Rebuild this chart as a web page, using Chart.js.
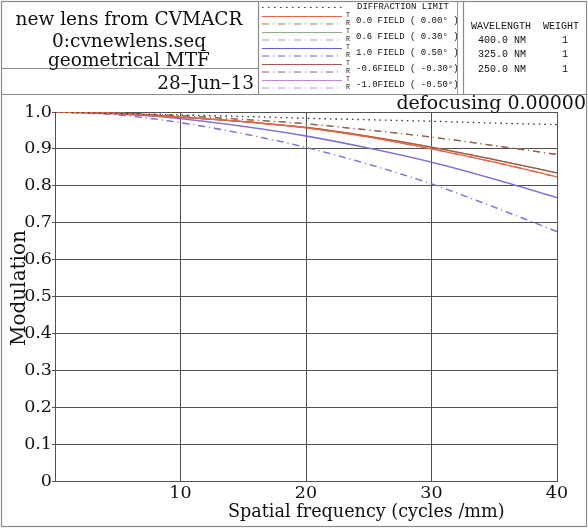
<!DOCTYPE html>
<html>
<head>
<meta charset="utf-8">
<script src="https://cdn.jsdelivr.net/npm/chart.js@4"></script>
<style>
  html, body { margin: 0; padding: 0; background: #fff; }
  #page { position: relative; width: 588px; height: 529px; overflow: hidden; background: #fff; }
  .t { position: absolute; white-space: pre; color: #111; }
  .serif { font-family: "DejaVu Serif", serif; font-size: 18.5px; line-height: 19px; }
  .mono { font-family: "Liberation Mono", monospace; font-size: 9px; line-height: 9px; }
  .wl { font-family: "Liberation Mono", monospace; font-size: 10px; line-height: 10px; }
  #plot { position: absolute; left: 0; top: 95px; width: 588px; height: 434px; }
  svg { position: absolute; left: 0; top: 0; }
</style>
</head>
<body>
<div id="page">
  <div id="plot"><canvas id="mtf"></canvas></div>

  <svg width="588" height="529">
    <!-- frame and header boxes -->
    <rect x="1.5" y="1.5" width="585" height="525" fill="none" stroke="#8a8a8a" stroke-width="1.2"/>
    <line x1="1.5" y1="94.5" x2="586.5" y2="94.5" stroke="#8a8a8a" stroke-width="1.2"/>
    <line x1="1.5" y1="68.5" x2="258.5" y2="68.5" stroke="#8a8a8a" stroke-width="1.2"/>
    <line x1="258.5" y1="1.5" x2="258.5" y2="94.5" stroke="#8a8a8a" stroke-width="1.2"/>
    <line x1="457.5" y1="1.5" x2="457.5" y2="94.5" stroke="#9a9a9a" stroke-width="1"/>
    <line x1="463.5" y1="1.5" x2="463.5" y2="94.5" stroke="#8a8a8a" stroke-width="1.2"/>
    <!-- legend samples -->
    <g id="legendLines"></g>
  </svg>

  <div class="t serif" style="left:0;width:258px;text-align:center;top:9px">new lens from CVMACR</div>
  <div class="t serif" style="left:0;width:258px;text-align:center;top:31px">0:cvnewlens.seq</div>
  <div class="t serif" style="left:0;width:258px;text-align:center;top:50px">geometrical MTF</div>
  <div class="t serif" style="right:334px;top:73px">28–Jun–13</div>

  <div id="legendText"></div>

  <div class="t wl" style="left:471px;top:22px">WAVELENGTH  WEIGHT</div>
  <div class="t wl" style="left:478px;top:36px">400.0 NM</div>
  <div class="t wl" style="left:478px;top:50px">325.0 NM</div>
  <div class="t wl" style="left:478px;top:65px">250.0 NM</div>
  <div class="t wl" style="left:562px;top:36px">1</div>
  <div class="t wl" style="left:562px;top:50px">1</div>
  <div class="t wl" style="left:562px;top:65px">1</div>

  <div class="t serif" style="right:2px;top:93px;font-size:19px">defocusing 0.00000</div>
  <div class="t serif" style="left:228px;top:502px;font-size:17.6px">Spatial frequency (cycles /mm)</div>
  <div class="t serif" style="left:-42px;top:278px;width:120px;text-align:center;transform:rotate(-90deg);font-size:20px;line-height:20px">Modulation</div>
</div>

<script>
// spatial frequency (cycles/mm)
const freq = [0, 5, 10, 15, 20, 25, 30, 35, 40];

// modulation
const diffraction = [1, 0.996, 0.992, 0.988, 0.983, 0.979, 0.975, 0.970, 0.966];
const f00T = [1, 0.996, 0.986, 0.974, 0.957, 0.932, 0.900, 0.864, 0.824];
const f00R = [1, 0.996, 0.986, 0.974, 0.957, 0.932, 0.900, 0.864, 0.824];
const f06T = [1, 0.996, 0.986, 0.974, 0.958, 0.934, 0.905, 0.871, 0.835];
const f06R = [1, 0.997, 0.990, 0.980, 0.968, 0.951, 0.932, 0.909, 0.885];
const f10T = [1, 0.995, 0.982, 0.961, 0.935, 0.902, 0.864, 0.818, 0.768];
const f10R = [1, 0.992, 0.971, 0.941, 0.904, 0.858, 0.805, 0.742, 0.676];
const fm06T = [1, 0.996, 0.986, 0.974, 0.958, 0.934, 0.905, 0.871, 0.835];
const fm06R = [1, 0.997, 0.990, 0.980, 0.968, 0.951, 0.932, 0.909, 0.885];
const fm10T = [1, 0.995, 0.982, 0.961, 0.935, 0.902, 0.864, 0.818, 0.768];
const fm10R = [1, 0.992, 0.971, 0.941, 0.904, 0.858, 0.805, 0.742, 0.676];

const yTicks = ['0', '0.1', '0.2', '0.3', '0.4', '0.5', '0.6', '0.7', '0.8', '0.9', '1.0'];
const fieldLabels = ['0.0 FIELD ( 0.00° )', '0.6 FIELD ( 0.30° )', '1.0 FIELD ( 0.50° )', '-0.6FIELD ( -0.30°)', '-1.0FIELD ( -0.50°)'];
const fieldColors = ['#e8643f', '#8fae80', '#5f5fd2', '#a2564c', '#c585dc'];

const dashDot = [7, 4, 1, 4];

function pts(ys) {
  return ys.map((y, i) => ({ x: freq[i], y: y }));
}

function series(label, ys, color, dash, order) {
  return {
    label: label,
    data: pts(ys),
    borderColor: color,
    borderWidth: 1.3,
    borderDash: dash,
    pointRadius: 0,
    fill: false,
    cubicInterpolationMode: 'monotone',
    order: order
  };
}

const datasets = [
  series('DIFFRACTION LIMIT', diffraction, '#333', [1.5, 4], 0),
  series('0.0 T', f00T, fieldColors[0], [], 1),
  series('0.0 R', f00R, fieldColors[0], dashDot, 2),
  series('0.6 T', f06T, fieldColors[1], [], 8),
  series('0.6 R', f06R, fieldColors[1], dashDot, 9),
  series('1.0 T', f10T, fieldColors[2], [], 6),
  series('1.0 R', f10R, fieldColors[2], dashDot, 7),
  series('-0.6 T', fm06T, fieldColors[3], [], 3),
  series('-0.6 R', fm06R, fieldColors[3], dashDot, 4),
  series('-1.0 T', fm10T, 'rgba(197,133,220,0.35)', [], 5),
  series('-1.0 R', fm10R, 'rgba(197,133,220,0.4)', dashDot, 5)
];

// legend in the header
const lg = document.getElementById('legendLines');
const lt = document.getElementById('legendText');
const NS = 'http://www.w3.org/2000/svg';
function addLine(y, color, dash) {
  const l = document.createElementNS(NS, 'line');
  l.setAttribute('x1', 262); l.setAttribute('x2', 342);
  l.setAttribute('y1', y); l.setAttribute('y2', y);
  l.setAttribute('stroke', color); l.setAttribute('stroke-width', 1.2);
  if (dash) l.setAttribute('stroke-dasharray', dash);
  lg.appendChild(l);
}
function addText(x, y, txt, cls, size) {
  const d = document.createElement('div');
  d.className = 't ' + cls;
  d.style.left = x + 'px';
  d.style.top = y + 'px';
  if (size) { d.style.fontSize = size + 'px'; d.style.lineHeight = size + 'px'; }
  d.textContent = txt;
  lt.appendChild(d);
}
addLine(7.5, '#333', '1.5 4.5');
addText(357, 3, 'DIFFRACTION LIMIT', 'mono');
const rowT = [16.5, 32.5, 48.5, 64.5, 80.5];
fieldLabels.forEach((lab, i) => {
  addLine(rowT[i], fieldColors[i], null);
  addLine(rowT[i] + 7.5, fieldColors[i], dashDot.join(' '));
  addText(346, rowT[i] - 3.5, 'T', 'mono', 6.5);
  addText(346, rowT[i] + 4, 'R', 'mono', 6.5);
  addText(356, rowT[i], lab, 'mono');
});

const serifFont = { family: 'DejaVu Serif', size: 17.5 };

new Chart(document.getElementById('mtf'), {
  type: 'line',
  data: { datasets: datasets },
  options: {
    responsive: true,
    maintainAspectRatio: false,
    animation: false,
    layout: { padding: { left: 0, top: 17, right: 31, bottom: 0 } },
    plugins: { legend: { display: false }, tooltip: { enabled: false } },
    scales: {
      x: {
        type: 'linear',
        min: 0,
        max: 40,
        afterFit: s => { s.height = 48; },
        grid: { color: '#555050', lineWidth: 1, tickLength: 0 },
        border: { color: '#555050' },
        ticks: {
          stepSize: 10,
          color: '#111',
          font: serifFont,
          padding: 2,
          maxRotation: 0,
          callback: v => (v === 0 ? '' : String(v))
        }
      },
      y: {
        min: 0,
        max: 1,
        afterFit: s => { s.width = 55; },
        grid: { color: '#555050', lineWidth: 1, tickLength: 3 },
        border: { color: '#555050' },
        ticks: {
          stepSize: 0.1,
          color: '#111',
          font: serifFont,
          padding: 0,
          callback: (v, i) => yTicks[i]
        }
      }
    }
  }
});
</script>
</body>
</html>
